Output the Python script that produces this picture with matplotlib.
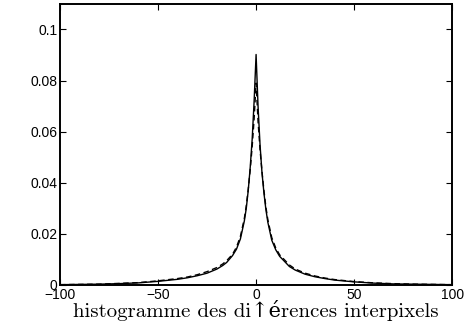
import numpy as np
import matplotlib.pyplot as plt

# differences (x) and histogram values
x = [-100, -90, -80, -70, -60, -50, -40, -35, -30, -25, -20, -17, -15, -12, -10,
     -8, -6, -5, -4, -3, -2, -1, 0, 1, 2, 3, 4, 5, 6, 8, 10, 12, 15, 17, 20,
     25, 30, 35, 40, 50, 60, 70, 80, 90, 100]
h_solid = [0.0001, 0.0002, 0.0003, 0.0005, 0.0008, 0.0014, 0.0022, 0.0028, 0.0036,
           0.0046, 0.0062, 0.0076, 0.0088, 0.0115, 0.0140, 0.0180, 0.0250, 0.0300,
           0.0370, 0.0460, 0.0570, 0.0720, 0.0902, 0.0700, 0.0550, 0.0440, 0.0360,
           0.0295, 0.0245, 0.0175, 0.0138, 0.0112, 0.0088, 0.0072, 0.0058, 0.0042,
           0.0032, 0.0025, 0.0019, 0.0012, 0.0007, 0.0004, 0.0003, 0.0002, 0.0001]
h_dashed = [0.0001, 0.0002, 0.0003, 0.0006, 0.0009, 0.0016, 0.0025, 0.0031, 0.0040,
            0.0052, 0.0068, 0.0082, 0.0095, 0.0120, 0.0148, 0.0190, 0.0260, 0.0310,
            0.0375, 0.0450, 0.0540, 0.0650, 0.0790, 0.0640, 0.0530, 0.0445, 0.0370,
            0.0305, 0.0255, 0.0185, 0.0145, 0.0118, 0.0094, 0.0078, 0.0062, 0.0046,
            0.0035, 0.0027, 0.0021, 0.0013, 0.0008, 0.0005, 0.0003, 0.0002, 0.0001]
xticks = [-100, -50, 0, 50, 100]
yticks = [0, 0.02, 0.04, 0.06, 0.08, 0.1]
ytick_labels = ['0', '0.02', '0.04', '0.06', '0.08', '0.1']

plt.rcParams['font.family'] = ['Liberation Sans', 'DejaVu Sans']
plt.rcParams['axes.unicode_minus'] = True

fig = plt.figure(figsize=(4.76, 3.26), dpi=100)
ax = fig.add_axes([0.126, 0.126, 0.824, 0.862])
ax.plot(x, h_solid, color='black', lw=1.0)
ax.plot(x, h_dashed, color='black', lw=1.0, ls=(0, (4, 2.5)))

ax.set_xlim(-100, 100)
ax.set_ylim(0, 0.11)
ax.set_xticks(xticks)
ax.set_xticklabels(['\u2212100', '\u221250', '0', '50', '100'])
ax.set_yticks(yticks)
ax.set_yticklabels(ytick_labels)
ax.tick_params(direction='in', top=True, right=True, length=4, width=0.8,
               labelsize=10, pad=2)
for s in ax.spines.values():
    s.set_linewidth(1.4)
ax.set_xlabel('histogramme des di\u2191érences interpixels',
              family=['cmr10', 'DejaVu Serif'], fontsize=15, labelpad=-1)

fig.savefig('out.png', dpi=100)
